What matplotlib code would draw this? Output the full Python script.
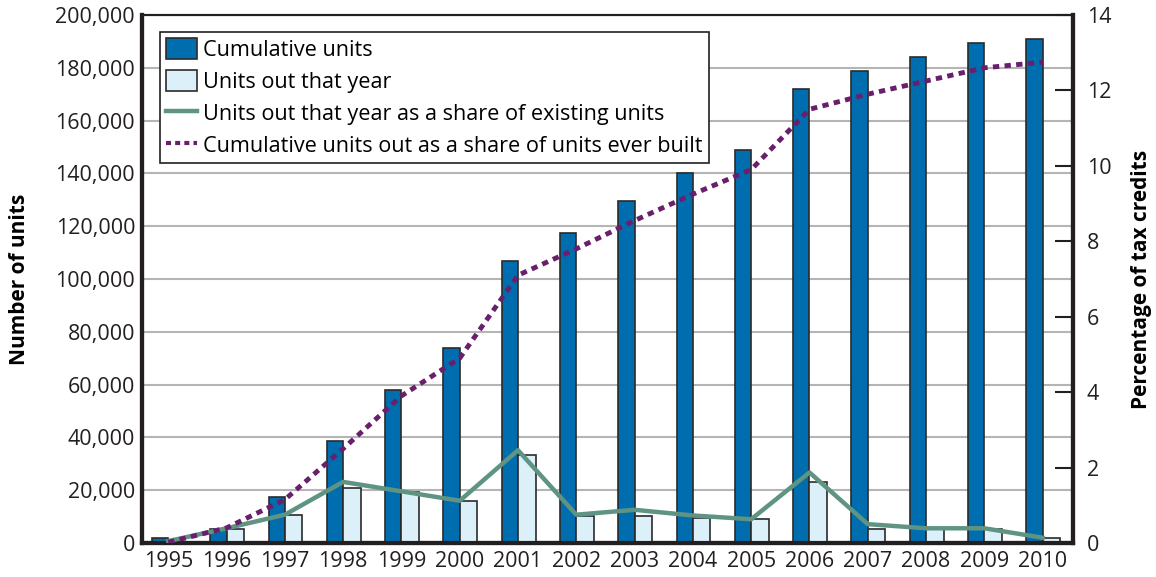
import matplotlib
matplotlib.use("Agg")
import matplotlib.pyplot as plt
import numpy as np
from matplotlib.patches import Patch
from matplotlib.lines import Line2D

plt.rcParams['font.family'] = ['Open Sans', 'DejaVu Sans']

years = ['1995', '1996', '1997', '1998', '1999', '2000', '2001', '2002',
         '2003', '2004', '2005', '2006', '2007', '2008', '2009', '2010']
cumulative_units = [1800, 5300, 17500, 38800, 57800, 73700, 106800, 117500,
                    129700, 140300, 149000, 171800, 178700, 184000, 189300, 190800]
units_out = [300, 5300, 10600, 21000, 19500, 16000, 33400, 10400,
             10400, 9600, 9000, 23100, 5300, 5200, 5300, 1800]
share_existing = [0.05, 0.39, 0.75, 1.62, 1.37, 1.12, 2.46, 0.75,
                  0.88, 0.73, 0.63, 1.87, 0.50, 0.39, 0.39, 0.14]
share_ever_built = [0.02, 0.40, 1.15, 2.50, 3.90, 4.90, 7.10, 7.80,
                    8.55, 9.25, 9.90, 11.50, 11.90, 12.25, 12.60, 12.75]

dark_blue = '#006dae'
light_blue = '#dcf0fa'
green = '#5f9484'
purple = '#6a1f6c'
spine_col = '#231f20'

fig = plt.figure(figsize=(11.56, 5.77), dpi=100)
ax = fig.add_axes([142/1156, 34/577, 931/1156, 528/577])
ax2 = ax.twinx()

x = np.arange(len(years))
w = 0.28
ax.bar(x - w/2, cumulative_units, width=w, color=dark_blue, edgecolor='#2b2b2b',
       linewidth=1.2, zorder=3)
ax.bar(x + w/2 + 0.01, units_out, width=w + 0.02, color=light_blue, edgecolor='#2b2b2b',
       linewidth=1.2, zorder=3)

ax.set_ylim(0, 200000)
ax.set_xlim(-0.45, 15.52)
ax.set_yticks(np.arange(0, 200001, 20000))
ax.set_yticklabels([f'{v:,}' for v in range(0, 200001, 20000)])
ax.yaxis.grid(True, color='#b5b5b5', linewidth=1.5, zorder=0)
ax.set_axisbelow(True)
ax.set_xticks(x)
ax.set_xticklabels(years)
ax.tick_params(axis='both', length=0, labelsize=15.5, colors='#231f20', pad=5)
ax.tick_params(axis='x', pad=6)
ax.set_ylabel('Number of units', fontsize=15, fontweight='bold', labelpad=18)

ax2.plot(x, share_existing, color=green, linewidth=3.2, zorder=4)
ax2.plot(x, share_ever_built, color=purple, linewidth=3.5,
         linestyle=(0, (1.3, 1.1)), zorder=5)
ax2.set_ylim(0, 14)
ax2.set_yticks(np.arange(0, 15, 2))
ax2.tick_params(axis='y', direction='in', length=13, width=1.5, labelsize=15.5,
                colors='#231f20', pad=10)
ax2.set_ylabel('Percentage of tax credits', fontsize=15, fontweight='bold',
               labelpad=14)

for a in (ax, ax2):
    for side in ('left', 'right', 'bottom'):
        a.spines[side].set_linewidth(3)
        a.spines[side].set_color(spine_col)
    a.spines['top'].set_linewidth(1.5)
    a.spines['top'].set_color(spine_col)

handles = [
    Patch(facecolor=dark_blue, edgecolor='#2b2b2b', linewidth=1.2),
    Patch(facecolor=light_blue, edgecolor='#2b2b2b', linewidth=1.2),
    Line2D([0], [0], color=green, linewidth=3.2),
    Line2D([0], [0], color=purple, linewidth=3.0, linestyle=(0, (1.2, 1.0))),
]
labels = ['Cumulative units', 'Units out that year',
          'Units out that year as a share of existing units',
          'Cumulative units out as a share of units ever built']
leg = ax2.legend(handles, labels, loc='upper left',
                 bbox_to_anchor=(0.0193, 0.968), borderaxespad=0,
                 fontsize=15.6, frameon=True, fancybox=False, framealpha=1,
                 edgecolor='#231f20', handlelength=1.4, handleheight=1.1,
                 handletextpad=0.3, labelspacing=0.42, borderpad=0.3)
leg.get_frame().set_linewidth(1.2)
leg.set_zorder(10)

fig.savefig('out.png', dpi=100)
